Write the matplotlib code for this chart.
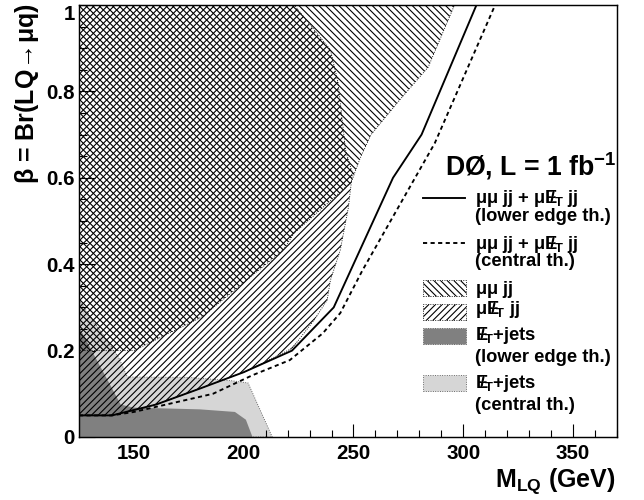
import matplotlib
matplotlib.use('Agg')
import matplotlib.pyplot as plt
from matplotlib.patches import Rectangle
from matplotlib.lines import Line2D
from matplotlib.ticker import MultipleLocator, FuncFormatter

# ---------------- data ----------------
# combined limit, lower edge of theory band (solid)
mass_lower = [125, 140, 160, 180, 200, 222, 241, 268, 281, 306]
beta_lower = [0.05, 0.05, 0.075, 0.112, 0.15, 0.20, 0.30, 0.60, 0.70, 1.00]
# combined limit, central theory (dashed)
mass_central = [125, 140, 150, 186, 204, 221, 236, 244, 254, 287, 314.5]
beta_central = [0.05, 0.05, 0.058, 0.10, 0.143, 0.178, 0.24, 0.287, 0.385, 0.68, 1.00]
# mu mu jj excluded region
mumu_mass = [125, 296, 295, 284, 271, 258, 253, 249, 223, 218, 181, 150, 125]
mumu_beta = [1.0, 1.0, 0.988, 0.856, 0.78, 0.70, 0.645, 0.59, 0.472, 0.433, 0.278, 0.2, 0.2]
# mu nu jj excluded region
munu_mass = [125, 223, 239.5, 243, 246.4, 249.5, 247.7, 244, 239.5, 238, 232, 222,
             200, 180, 160, 140, 125]
munu_beta = [1.0, 1.0, 0.896, 0.82, 0.664, 0.611, 0.532, 0.433, 0.363, 0.317, 0.27, 0.205,
             0.15, 0.112, 0.075, 0.05, 0.05]
# MET + jets, lower edge theory
metl_mass = [125, 125, 144, 150, 180, 196, 201, 204]
metl_beta = [0.0, 0.255, 0.075, 0.068, 0.064, 0.058, 0.04, 0.0]
# MET + jets, central theory
metc_mass = [125, 125, 143, 147, 175, 195, 202, 213]
metc_beta = [0.0, 0.317, 0.185, 0.139, 0.138, 0.13, 0.125, 0.0]

x_range = (125, 370)
y_range = (0, 1)
y_ticks = [0, 0.2, 0.4, 0.6, 0.8, 1.0]

# ---------------- style ----------------
plt.rcParams['font.family'] = ['Liberation Sans', 'DejaVu Sans']
plt.rcParams['font.weight'] = 'bold'
plt.rcParams['axes.labelweight'] = 'bold'
plt.rcParams['mathtext.fontset'] = 'custom'
plt.rcParams['mathtext.rm'] = 'Liberation Sans:bold'
plt.rcParams['mathtext.bf'] = 'Liberation Sans:bold'
plt.rcParams['mathtext.it'] = 'Liberation Sans'
plt.rcParams['hatch.linewidth'] = 1.0

DPI = 80
W, H = 644, 500
fig = plt.figure(figsize=(W / DPI, H / DPI), dpi=DPI)
L, R, T, B = 79, 617, 5, 437
ax = fig.add_axes([L / W, 1 - B / H, (R - L) / W, (B - T) / H])

DARK = '#808080'
LIGHT = '#d6d6d6'

ax.fill(metc_mass, metc_beta, facecolor=LIGHT, edgecolor='#555555', linestyle=':', linewidth=0.8, zorder=1)
ax.fill(metl_mass, metl_beta, facecolor=DARK, edgecolor='none', zorder=2)
ax.fill(munu_mass, munu_beta, facecolor='none', edgecolor='black', hatch='////',
        linestyle=':', linewidth=0.8, zorder=3)
ax.fill(mumu_mass, mumu_beta, facecolor='none', edgecolor='black', hatch='\\\\\\\\',
        linestyle=':', linewidth=0.8, zorder=4)
ax.plot(mass_lower, beta_lower, color='black', lw=1.7, zorder=6)
ax.plot(mass_central, beta_central, color='black', lw=1.7, dashes=(2.2, 1.8), zorder=6)

ax.set_xlim(*x_range)
ax.set_ylim(*y_range)
ax.xaxis.set_major_locator(MultipleLocator(50))
ax.xaxis.set_minor_locator(MultipleLocator(10))
ax.set_yticks(y_ticks)
ax.yaxis.set_minor_locator(MultipleLocator(0.05))
ax.yaxis.set_major_formatter(FuncFormatter(lambda v, p: '%g' % v))
ax.tick_params(which='both', direction='in', top=False, right=False, width=1.0,
               labelsize=18.5)
ax.xaxis.set_tick_params(which='major', length=11.5, pad=6)
ax.xaxis.set_tick_params(which='minor', length=6)
ax.yaxis.set_tick_params(which='major', length=14, pad=3.5)
ax.yaxis.set_tick_params(which='minor', length=7)
for s in ax.spines.values():
    s.set_linewidth(1.3)
    s.set_zorder(10)
# keep the top label "1" inside the canvas, as in the reference
ax.yaxis.get_major_ticks()[-1].label1.set_verticalalignment('top')
ax.yaxis.get_major_ticks()[-1].label1.set_y(1.006)

ax.set_xlabel(r'M$_{\mathbf{LQ}}$ (GeV)', fontsize=22.5, ha='right', va='center')
ax.xaxis.set_label_coords((615 - L) / (R - L), (B - 481) / (B - T))
ax.set_ylabel(r'$\beta$ = Br(LQ$\!\rightarrow\!\mu$q)', fontsize=22.5, ha='right', va='center')
ax.yaxis.set_label_coords((27 - L) / (R - L), (B - 3) / (B - T))

# ---------------- legend ----------------
def fx(x):
    return x / W

def fy(y):
    return 1 - y / H

ET = r'E$\!\!\!/_{\mathbf{T}}$'
TXT = 16.5
fig.text(fx(445), fy(175), r'DØ, L = 1 fb$^{\mathbf{-1}}$', fontsize=24, va='baseline')

rows = [
    ('line', '-', 198, [(r'$\mu\mu$ jj + $\mu$' + ET + ' jj', 198.5), ('(lower edge th.)', 217)]),
    ('line', '--', 243, [(r'$\mu\mu$ jj + $\mu$' + ET + ' jj', 244.5), ('(central th.)', 262)]),
    ('hatch', '\\\\\\\\', 288, [(r'$\mu\mu$ jj', 289)]),
    ('hatch', '////', 312, [(r'$\mu$' + ET + ' jj', 310)]),
    ('fill', DARK, 336, [(ET + '+jets', 335.5), ('(lower edge th.)', 358)]),
    ('fill', LIGHT, 383, [(ET + '+jets', 383.5), ('(central th.)', 406)]),
]
for kind, sty, yc, texts in rows:
    if kind == 'line':
        ln = Line2D([fx(423), fx(465)], [fy(yc), fy(yc)], color='black', lw=1.7,
                    transform=fig.transFigure)
        if sty == '--':
            ln.set_dashes((2.2, 1.8))
        fig.add_artist(ln)
    elif kind == 'hatch':
        fig.add_artist(Rectangle((fx(423), fy(yc + 8)), fx(466) - fx(423), fy(yc - 8) - fy(yc + 8),
                                 facecolor='white', edgecolor='black', hatch=sty,
                                 linestyle=':', linewidth=0.8, transform=fig.transFigure))
    else:
        fig.add_artist(Rectangle((fx(423), fy(yc + 8)), fx(466) - fx(423), fy(yc - 8) - fy(yc + 8),
                                 facecolor=sty, edgecolor='#555555',
                                 linestyle=':', linewidth=0.8, transform=fig.transFigure))
    for t, ty in texts:
        fig.text(fx(475), fy(ty), t, fontsize=TXT, va='center')

fig.savefig('out.png', dpi=DPI)
